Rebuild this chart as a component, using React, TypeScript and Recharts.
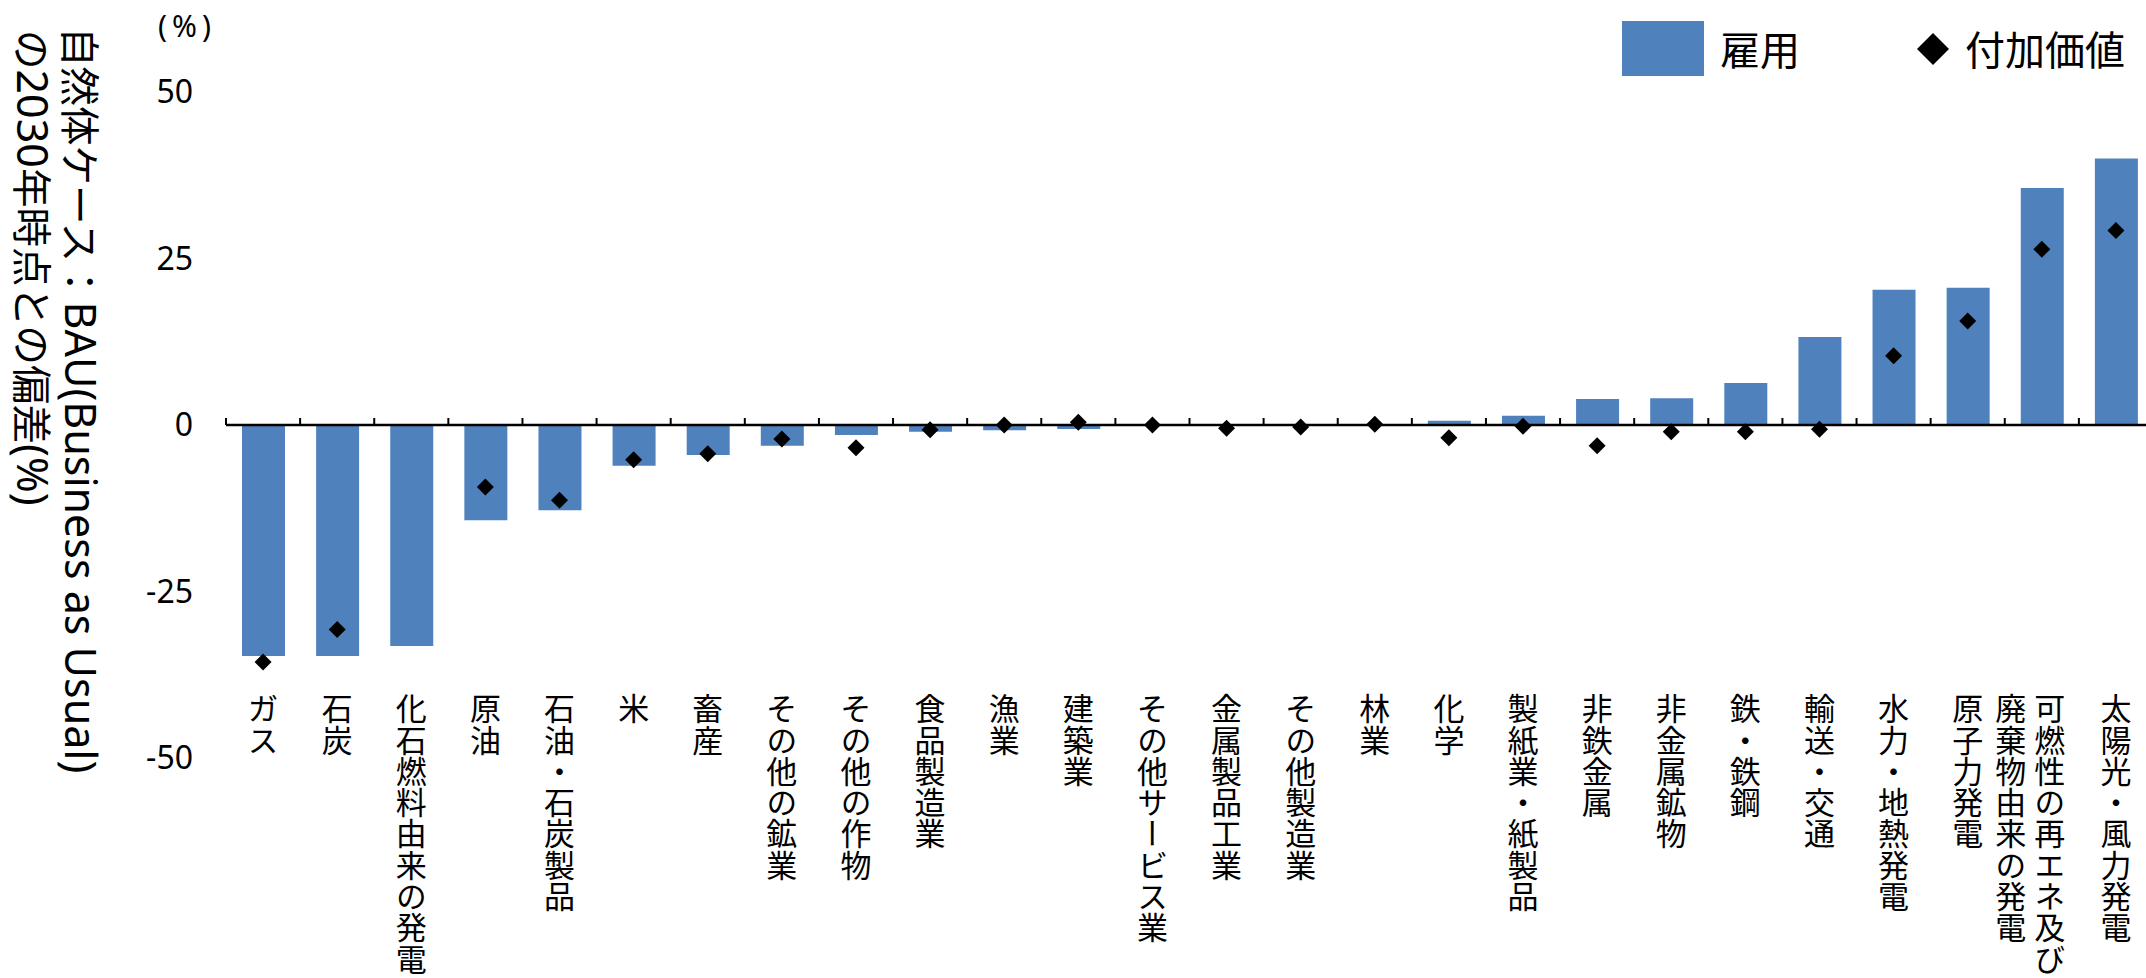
import React from 'react';
import { ComposedChart, Bar, Scatter, XAxis, YAxis, ReferenceLine, Legend } from 'recharts';

const categories = [
  'ガス', '石炭', '化石燃料由来の発電', '原油', '石油・石炭製品', '米', '畜産',
  'その他の鉱業', 'その他の作物', '食品製造業', '漁業', '建築業', 'その他サービス業',
  '金属製品工業', 'その他製造業', '林業', '化学', '製紙業・紙製品', '非鉄金属',
  '非金属鉱物', '鉄・鉄鋼', '輸送・交通', '水力・地熱発電', '原子力発電',
  '可燃性の再エネ及び\n廃棄物由来の発電', '太陽光・風力発電',
];
const employment = [
  -34.7, -34.7, -33.2, -14.3, -12.8, -6.1, -4.5, -3.1, -1.5, -1.0, -0.8, -0.6, 0,
  0, 0, 0, 0.65, 1.4, 3.9, 4.0, 6.3, 13.2, 20.3, 20.6, 35.6, 40.0,
];
const valueAdded: (number | null)[] = [
  -35.6, -30.7, null, -9.3, -11.3, -5.2, -4.3, -2.1, -3.4, -0.7, 0, 0.4, 0,
  -0.5, -0.3, 0.1, -1.9, -0.2, -3.1, -1.0, -1.0, -0.65, 10.4, 15.6, 26.4, 29.2,
];
const yTicks = [-50, -25, 0, 25, 50];
const seriesNames = ['雇用', '付加価値'];
const yTitleLine1 = ['自然体ケース：', 'BAU(Business as Usual)'];
const yTitleLine2 = ['の', '2030', '年時点との偏差', '(%)'];
const unitLabel = '(%)';

const BLUE = '#4F81BD';
const CJK = '"Noto Sans CJK JP", sans-serif';
const LATIN = '"Noto Sans", "Noto Sans CJK JP", sans-serif';

const data = categories.map((name, i) => ({ name, emp: employment[i], va: valueAdded[i] }));

const CategoryTick = (props: any) => {
  const { x, y, payload } = props;
  const lines = String(payload.value).split('\n');
  const fs = 31;
  const top = y - 65;
  const offsets = lines.length === 1 ? [0] : [8, -31];
  return (
    <g>
      {lines.map((line, li) => (
        <text key={li} x={x + offsets[li]} y={top} fontSize={fs} fontFamily={CJK} fill="#000"
          letterSpacing={0.3} style={{ writingMode: 'vertical-rl' as any }}>{line}</text>
      ))}
    </g>
  );
};

const ZeroAxis = (props: any) => {
  const { x1, x2, y1 } = props;
  const n = categories.length;
  const band = (x2 - x1) / n;
  const ticks = categories.map((_, i) => x1 + i * band).concat([x2]);
  return (
    <g>
      <line x1={x1} x2={x2} y1={y1} y2={y1} stroke="#000" strokeWidth={2.5} />
      {ticks.map((tx, i) => (
        <line key={i} x1={tx} x2={tx} y1={y1} y2={y1 - 7} stroke="#000" strokeWidth={2} />
      ))}
    </g>
  );
};

const Diamond = (props: any) => {
  const { cx, cy, payload } = props;
  if (payload == null || payload.va == null || cx == null || cy == null || isNaN(cy)) return <g />;
  const h = 8.5;
  return <polygon points={`${cx},${cy - h} ${cx + h},${cy} ${cx},${cy + h} ${cx - h},${cy}`} fill="#000" />;
};

const YTitle = (props: any) => {
  const vb = props.viewBox || { x: 0, y: 92 };
  const ox = vb.x;
  const oy = vb.y;
  const b1x = ox + 65, b1y = oy - 65;
  const b2x = ox + 17, b2y = oy - 62;
  const ux = ox + 158, uy = oy - 55;
  return (
    <g>
      <text x={b1x} y={b1y} transform={`rotate(90 ${b1x} ${b1y})`} fill="#000">
        <tspan fontFamily={CJK} fontSize={39.5}>{yTitleLine1[0]}</tspan>
        <tspan fontFamily={LATIN} fontSize={43}>{yTitleLine1[1]}</tspan>
      </text>
      <text x={b2x} y={b2y} transform={`rotate(90 ${b2x} ${b2y})`} fill="#000">
        <tspan fontFamily={CJK} fontSize={39.5}>{yTitleLine2[0]}</tspan>
        <tspan fontFamily={LATIN} fontSize={43}>{yTitleLine2[1]}</tspan>
        <tspan fontFamily={CJK} fontSize={39.5}>{yTitleLine2[2]}</tspan>
        <tspan fontFamily={LATIN} fontSize={43}>{yTitleLine2[3]}</tspan>
      </text>
      <text x={ux} y={uy} fontFamily={LATIN} fontSize={30} letterSpacing={5} fill="#000">{unitLabel}</text>
    </g>
  );
};

const LegendContent = () => (
  <svg width={546} height={100} style={{ display: 'block' }}>
    <rect x={22} y={21} width={82} height={55} fill={BLUE} />
    <text x={120} y={65} fontFamily={CJK} fontSize={40} fill="#000">{seriesNames[0]}</text>
    <polygon points="333,33 349,49 333,65 317,49" fill="#000" />
    <text x={365} y={65} fontFamily={CJK} fontSize={40} fill="#000">{seriesNames[1]}</text>
  </svg>
);

export default function App() {
  return (
    <div style={{ position: 'absolute', left: 0, top: 0, width: 2146, height: 978, overflow: 'hidden', background: '#fff' }}>
      <ComposedChart width={2153} height={978} data={data}
        margin={{ top: 92, right: 0, bottom: 0, left: 0 }}
        style={{ fontFamily: CJK }}>
        <XAxis dataKey="name" axisLine={false} tickLine={false} tickSize={0} tickMargin={0}
          height={220} interval={0} tick={CategoryTick} />
        <YAxis domain={[-50, 50]} ticks={yTicks} width={226} axisLine={false} tickLine={false}
          tickSize={0} tickMargin={33} interval={0}
          tick={{ fontSize: 32, fill: '#000', fontFamily: LATIN }} label={YTitle} />
        <Legend layout="vertical" align="center" verticalAlign="middle" content={LegendContent}
          wrapperStyle={{ left: 1600, top: 0, width: 546, height: 100 }} />
        <Bar dataKey="emp" name={seriesNames[0]} fill={BLUE} barSize={43} isAnimationActive={false} />
        <ReferenceLine y={0} shape={ZeroAxis} />
        <Scatter dataKey="va" name={seriesNames[1]} fill="#000" shape={Diamond} isAnimationActive={false} />
      </ComposedChart>
    </div>
  );
}
